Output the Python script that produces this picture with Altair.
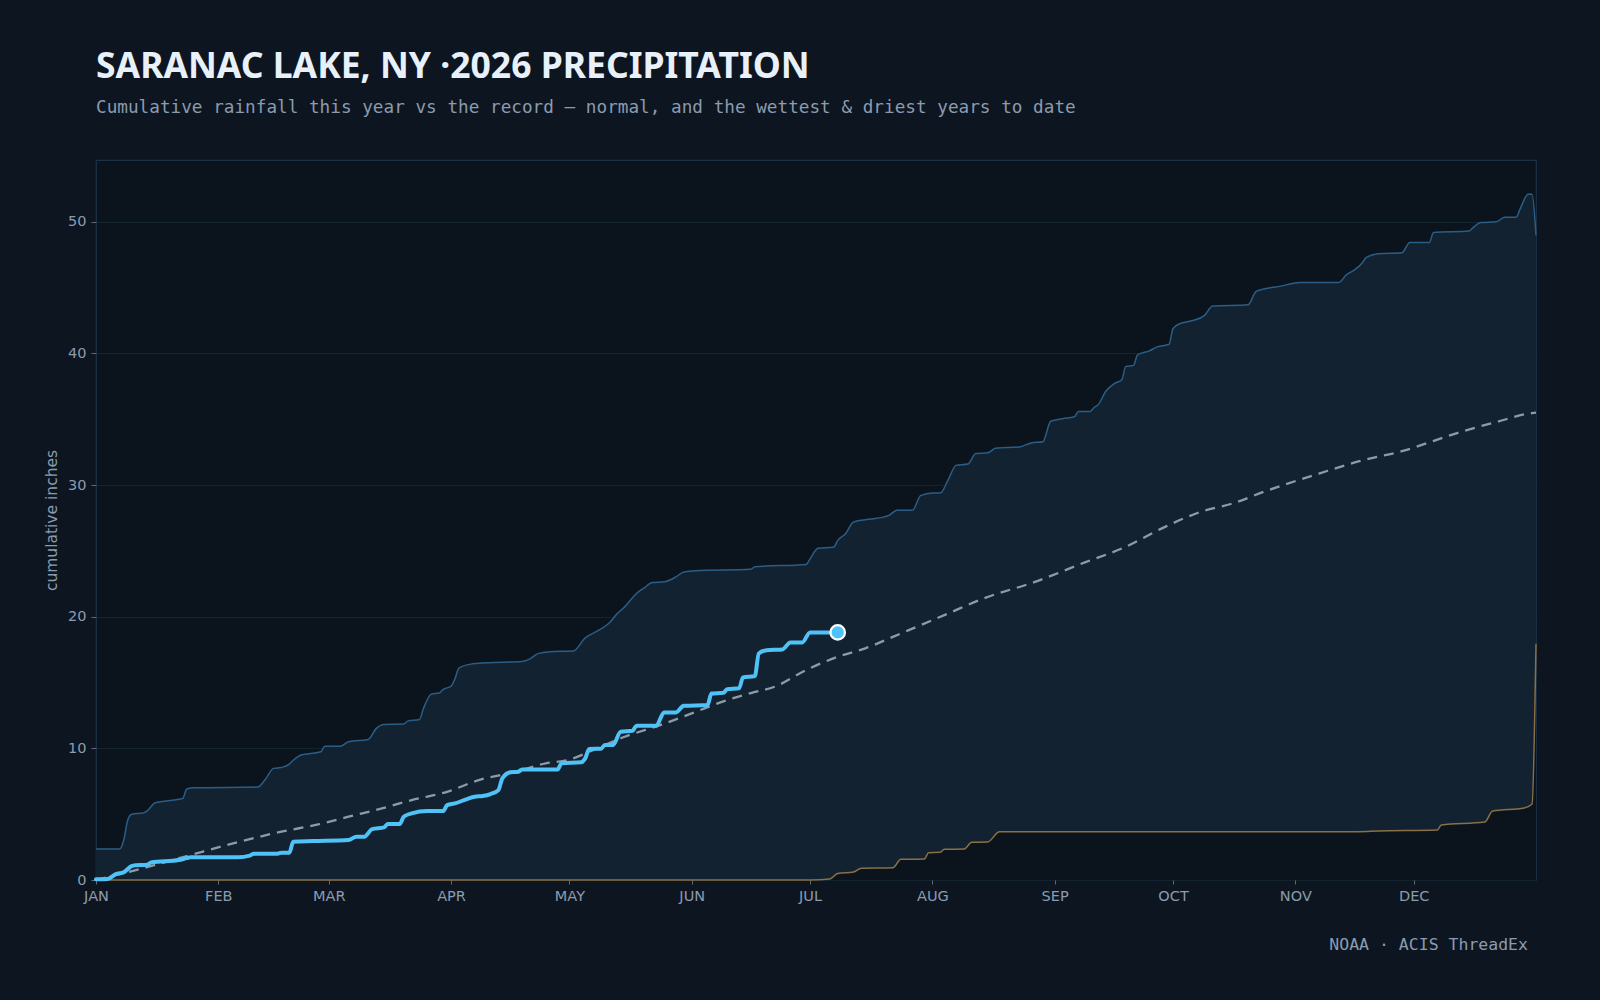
import altair as alt
import pandas as pd

# ---- data (day of year, cumulative inches) ----
MONTH_START_DAY = [0, 31, 59, 90, 120, 151, 181, 212, 243, 273, 304, 334]
MONTH_LABEL = ["JAN", "FEB", "MAR", "APR", "MAY", "JUN",
               "JUL", "AUG", "SEP", "OCT", "NOV", "DEC"]
Y_TICKS = [0, 10, 20, 30, 40, 50]

THIS_YEAR_DAY = [0, 3, 5, 7, 9, 10, 13, 14, 21, 23, 24, 36, 39, 40, 46, 47, 49, 50,
                 55, 64, 66, 68, 70, 73, 74, 77, 78, 80, 84, 88, 89, 91, 94, 96, 98,
                 100, 102, 103, 105, 107, 108, 117, 118, 123, 124, 125, 128, 129, 131,
                 133, 136, 137, 142, 144, 147, 149, 155, 156, 159, 160, 163, 164, 167,
                 168, 170, 174, 176, 179, 181, 188]
THIS_YEAR_IN = [0.05, 0.08, 0.45, 0.58, 1.05, 1.12, 1.16, 1.34, 1.52, 1.66, 1.72, 1.72,
                1.85, 2.0, 2.0, 2.07, 2.07, 2.91, 2.96, 3.04, 3.29, 3.29, 3.87, 4.0,
                4.25, 4.25, 4.81, 5.06, 5.24, 5.24, 5.69, 5.82, 6.15, 6.33, 6.38, 6.53,
                6.83, 7.72, 8.18, 8.22, 8.4, 8.4, 8.86, 8.94, 9.24, 9.95, 9.98, 10.25,
                10.25, 11.26, 11.34, 11.72, 11.72, 12.73, 12.73, 13.24, 13.29, 14.17,
                14.22, 14.5, 14.56, 15.39, 15.49, 17.21, 17.46, 17.52, 18.05, 18.05,
                18.81, 18.81]

NORMAL_DAY = [0, 12, 24, 35, 47, 56, 64, 72, 80, 89, 97, 106, 114, 120, 126, 134,
              143, 151, 160, 166, 172, 180, 188, 195, 202, 206, 216, 225, 238, 251,
              260, 271, 280, 288, 297, 310, 320, 331, 346, 355, 364, 365]
NORMAL_IN = [0.0, 0.9, 1.9, 2.8, 3.67, 4.2, 4.81, 5.4, 6.07, 6.7, 7.59, 8.2, 8.86,
             9.15, 9.87, 10.88, 11.77, 12.66, 13.67, 14.2, 14.68, 15.95, 16.96, 17.6,
             18.47, 18.98, 20.25, 21.39, 22.65, 24.17, 25.18, 26.83, 27.97, 28.6,
             29.6, 30.88, 31.8, 32.58, 34.05, 34.8, 35.47, 35.5]

WETTEST_DAY = [0, 6, 7, 8, 9, 12, 13, 15, 21, 22, 23, 25, 41, 43, 45, 47, 49, 50, 52,
               54, 57, 58, 62, 64, 69, 71, 73, 78, 79, 82, 83, 85, 87, 88, 90, 91, 92,
               95, 99, 108, 110, 112, 115, 121, 124, 127, 130, 132, 134, 137, 139, 141,
               144, 147, 149, 152, 166, 167, 180, 181, 183, 187, 188, 190, 192, 196,
               201, 203, 207, 209, 212, 214, 216, 218, 221, 223, 226, 228, 234, 237,
               240, 242, 245, 248, 249, 252, 253, 254, 256, 258, 260, 261, 263, 264,
               267, 269, 272, 273, 275, 278, 281, 283, 292, 294, 296, 300, 303, 305,
               315, 317, 319, 321, 322, 325, 331, 333, 338, 339, 348, 349, 351, 355,
               357, 360, 361, 363, 364, 365]
WETTEST_IN = [2.35, 2.35, 3.0, 4.5, 5.0, 5.1, 5.26, 5.87, 6.13, 6.2, 6.91, 7.0, 7.06,
              7.67, 8.48, 8.55, 8.8, 9.1, 9.5, 9.6, 9.74, 10.17, 10.17, 10.5, 10.68,
              11.5, 11.82, 11.85, 12.07, 12.2, 13.04, 14.12, 14.2, 14.48, 14.73, 15.3,
              16.1, 16.4, 16.5, 16.6, 16.8, 17.2, 17.35, 17.4, 18.4, 18.9, 19.5, 20.2,
              20.75, 21.77, 22.2, 22.6, 22.65, 23.03, 23.4, 23.5, 23.6, 23.8, 23.97,
              24.4, 25.2, 25.3, 25.8, 26.3, 27.2, 27.4, 27.7, 28.1, 28.1, 29.2, 29.4,
              29.4, 30.4, 31.5, 31.6, 32.4, 32.45, 32.8, 32.9, 33.2, 33.3, 34.85,
              35.05, 35.2, 35.6, 35.6, 35.9, 36.1, 37.15, 37.7, 38.0, 39.0, 39.1, 39.9,
              40.2, 40.5, 40.7, 41.9, 42.3, 42.5, 42.9, 43.6, 43.7, 44.7, 44.9, 45.1,
              45.3, 45.4, 45.4, 46.0, 46.35, 46.9, 47.3, 47.57, 47.65, 48.44, 48.44,
              49.2, 49.3, 49.55, 49.95, 50.0, 50.36, 50.36, 51.0, 52.1, 52.1, 48.97]

DRIEST_DAY = [0, 181, 186, 188, 192, 194, 202, 204, 210, 211, 214, 215, 220, 222, 226,
              229, 320, 325, 340, 341, 352, 354, 362, 364, 365]
DRIEST_IN = [0.0, 0.0, 0.08, 0.5, 0.6, 0.9, 0.94, 1.57, 1.6, 2.07, 2.1, 2.33, 2.35,
             2.86, 2.88, 3.67, 3.67, 3.72, 3.8, 4.18, 4.4, 5.24, 5.47, 5.77, 17.94]

SOURCE_NOTE = ["NOAA · ACIS ThreadEx"]

# ---- palette ----
PAGE_BG = "#0d1620"
PLOT_BG = "#0b141d"
BAND_FILL = "#122230"
WET_LINE = "#2b5e87"
DRY_LINE = "#8a7046"
NORMAL_LINE = "#8c9baa"
THIS_YEAR = "#4fc3f7"
MUTED_TEXT = "#8b9bb0"

this_year = pd.DataFrame({"day": THIS_YEAR_DAY, "inches": THIS_YEAR_IN})
latest = this_year.tail(1)
normal = pd.DataFrame({"day": NORMAL_DAY, "inches": NORMAL_IN})
wettest = pd.DataFrame({"day": WETTEST_DAY, "inches": WETTEST_IN})
driest = pd.DataFrame({"day": DRIEST_DAY, "inches": DRIEST_IN})
note = pd.DataFrame({"label": SOURCE_NOTE})

month_expr = "[{}][indexof([{}], datum.value)]".format(
    ",".join("'" + m + "'" for m in MONTH_LABEL),
    ",".join(str(d) for d in MONTH_START_DAY),
)

X = alt.X(
    "day:Q",
    scale=alt.Scale(domain=[0, 365], nice=False, zero=False),
    axis=alt.Axis(
        values=MONTH_START_DAY,
        labelExpr=month_expr,
        labelFlush=False,
        grid=False,
        domain=False,
        ticks=True,
        tickSize=4,
        labelPadding=5,
        title=None,
    ),
)
Y = alt.Y(
    "inches:Q",
    scale=alt.Scale(domain=[0, 54.7], nice=False),
    axis=alt.Axis(
        values=Y_TICKS,
        grid=True,
        domain=False,
        tickSize=5,
        labelPadding=5,
        title="cumulative inches",
        titlePadding=8,
        titleFontSize=15.5,
    ),
)

# record envelope: fill up to the wettest curve, then paint the plot
# background back in below the driest curve
wet_area = alt.Chart(wettest).mark_area(
    interpolate="monotone", color=BAND_FILL, opacity=1
).encode(x=X, y=Y)
dry_area = alt.Chart(driest).mark_area(
    interpolate="monotone", color=PLOT_BG, opacity=1
).encode(x=X, y=Y)

wet_line = alt.Chart(wettest).mark_line(
    interpolate="monotone", color=WET_LINE, strokeWidth=1.5
).encode(x=X, y=Y)
dry_line = alt.Chart(driest).mark_line(
    interpolate="monotone", color=DRY_LINE, strokeWidth=1.5
).encode(x=X, y=Y)

normal_line = alt.Chart(normal).mark_line(
    interpolate="monotone", color=NORMAL_LINE, strokeWidth=2.3, strokeDash=[10, 7]
).encode(x=X, y=Y)

year_line = alt.Chart(this_year).mark_line(
    interpolate="monotone", color=THIS_YEAR, strokeWidth=4, strokeJoin="round",
    strokeCap="round"
).encode(x=X, y=Y)

latest_dot = alt.Chart(latest).mark_circle(
    size=210, color=THIS_YEAR, opacity=1, stroke="#ffffff", strokeWidth=2.2
).encode(x=X, y=Y)

source = alt.Chart(note).mark_text(
    align="right", baseline="middle", font="DejaVu Sans Mono", fontSize=16.5,
    color=MUTED_TEXT
).encode(x=alt.value(1432), y=alt.value(785), text="label:N")

chart = (
    alt.layer(wet_area, dry_area, wet_line, dry_line, normal_line, year_line,
              latest_dot, source)
    .properties(
        width=1440,
        height=720,
        autosize=alt.AutoSizeParams(type="none"),
        padding={"left": 96, "top": 160, "right": 64, "bottom": 120},
        title=alt.Title(
            text="SARANAC LAKE, NY ·2026 PRECIPITATION",
            subtitle="Cumulative rainfall this year vs the record — normal, and the wettest & driest years to date",
            anchor="start",
            frame="group",
            offset=43,
            subtitlePadding=14,
            font="Noto Sans",
            fontSize=35.5,
            fontWeight="bold",
            color="#e8f1fa",
            subtitleFont="DejaVu Sans Mono",
            subtitleFontSize=17.7,
            subtitleColor=MUTED_TEXT,
        ),
    )
    .configure(background=PAGE_BG)
    .configure_view(fill=PLOT_BG, stroke="#1b3145", strokeWidth=1.2)
    .configure_axis(
        labelFont="DejaVu Sans",
        labelFontSize=14.5,
        labelColor=MUTED_TEXT,
        titleFont="DejaVu Sans",
        titleFontWeight="normal",
        titleColor=MUTED_TEXT,
        tickColor="#5b6b7b",
        gridColor="#132330",
        gridWidth=1,
    )
)

chart.save("out.html", embed_options={"renderer": "svg", "actions": False})
